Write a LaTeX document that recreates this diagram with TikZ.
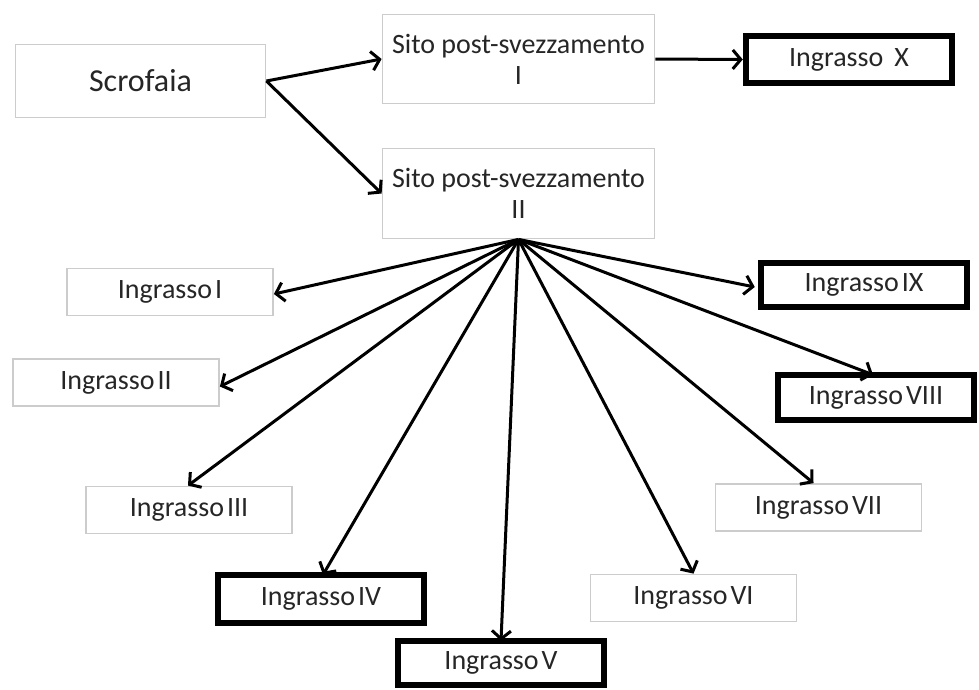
\documentclass[tikz,border=0pt]{standalone}
\usepackage{fontspec}
\setmainfont{Carlito}
\usetikzlibrary{arrows.meta}
\definecolor{boxgray}{HTML}{CCCCCC}
\definecolor{txt}{HTML}{262626}
\newcommand\lblgap{\hspace{3pt}}
\begin{document}
\begin{tikzpicture}[x=1pt,y=-1pt,
  graybox/.style={draw=boxgray,line width=1.8pt,fill=white,text=txt,inner sep=0pt,
    minimum width=206pt,minimum height=47pt,font=\fontsize{28}{31}\selectfont,align=center},
  thickbox/.style={draw=black,line width=6.5pt,fill=white,text=txt,inner sep=0pt,
    minimum width=206pt,minimum height=47pt,font=\fontsize{28}{31}\selectfont,align=center},
  arr/.style={draw=black,line width=3pt,-{Straight Barb[length=8pt,width=19pt,line width=3pt]}}]
\useasboundingbox (0,0) rectangle (979,689);
\fill[white] (0,0) rectangle (979,689);
% nodes
\node[graybox,minimum width=250pt,minimum height=73pt,font=\fontsize{32}{36}\selectfont] (scro) at (140.5,81) {Scrofaia};
\node[graybox,minimum width=272pt,minimum height=89pt] (s1) at (518.5,59) {Sito post-svezzamento\\I};
\node[graybox,minimum width=272pt,minimum height=90pt] (s2) at (518.5,193.5) {Sito post-svezzamento\\II};
\node[thickbox] (x10) at (849,59.5) {Ingrasso\hspace{11pt}X};
\node[graybox] (i1) at (170,292) {Ingrasso\lblgap I};
\node[graybox] (i2) at (116,382.5) {Ingrasso\lblgap II};
\node[graybox] (i3) at (189,510) {Ingrasso\lblgap III};
\node[thickbox,minimum height=48pt] (i4) at (321,599) {Ingrasso\lblgap IV};
\node[thickbox,minimum height=44pt] (i5) at (501,663) {Ingrasso\lblgap V};
\node[graybox] (i6) at (693.5,598) {Ingrasso\lblgap VI};
\node[graybox] (i7) at (818.5,507.5) {Ingrasso\lblgap VII};
\node[thickbox,minimum width=196pt,minimum height=45pt] (i8) at (876,397.5) {Ingrasso\lblgap VIII};
\node[thickbox,minimum height=44pt] (i9) at (864,285) {Ingrasso\lblgap IX};
% connectors
\draw[arr] (scro.east) -- (s1.west);
\draw[arr] (scro.east) -- (s2.west);
\draw[arr] (s1.east) -- (x10.west);
\draw[arr] (s2.south) -- ([yshift=-2pt]i1.east);
\draw[arr] (s2.south) -- ([yshift=-4pt]i2.east);
\draw[arr] (s2.south) -- ([xshift=-1pt]i3.north);
\draw[arr] (s2.south) -- ([xshift=2pt,yshift=-3pt]i4.north);
\draw[arr] (s2.south) -- ([yshift=-3pt]i5.north);
\draw[arr] (s2.south) -- (i6.north);
\draw[arr] (s2.south) -- ([xshift=-5pt]i7.north);
\draw[arr] (s2.south) -- ([xshift=-3pt,yshift=-3pt]i8.north);
\draw[arr] (s2.south) -- ([xshift=-3pt,yshift=-2pt]i9.west);
\end{tikzpicture}
\end{document}
